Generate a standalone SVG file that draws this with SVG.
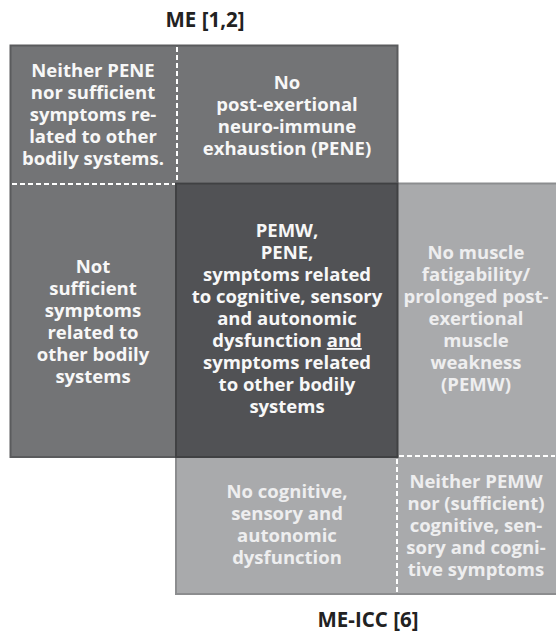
<svg xmlns="http://www.w3.org/2000/svg" width="556" height="633" viewBox="0 0 556 633">
<style>
text{font-family:"Open Sans","Noto Sans","Liberation Sans",sans-serif;font-weight:700;font-size:18.5px;text-anchor:middle}
.w{fill:#f7f7f7}
.l{fill:#eeeeef}
.t{fill:#222;font-size:20.5px}
.div{stroke:#ffffff;stroke-width:2;stroke-dasharray:5 3;fill:none}
</style>
<rect width="556" height="633" fill="#ffffff"/>
<g id="titles">
<text class="t" x="205" y="27">ME [1,2]</text>
<text class="t" x="368" y="627">ME-ICC [6]</text>
</g>
<g id="boxes">
<rect id="me-box" x="10.5" y="45.5" width="387" height="411.5" fill="#737476" stroke="#5a5b5d" stroke-width="2"/>
<rect id="icc-box" x="176" y="183.5" width="381" height="410.5" fill="#a9aaac" stroke="#8c8d8f" stroke-width="2"/>
<rect id="overlap-box" x="176" y="183.5" width="221.5" height="273.5" fill="#515255" stroke="#404143" stroke-width="2"/>
</g>
<g id="connectors">
<path class="div" d="M177 47V182M12 184H175"/>
<path class="div" d="M399 456H555M397 459V593"/>
</g>
<g id="me-only-both">
<text class="w" y="77"><tspan x="93">Neither PENE</tspan><tspan x="93" dy="22">nor sufficient</tspan><tspan x="93" dy="22">symptoms re-</tspan><tspan x="93" dy="22">lated to other</tspan><tspan x="93" dy="22">bodily systems.</tspan></text>
</g>
<g id="no-pene">
<text class="w" y="89"><tspan x="287">No</tspan><tspan x="287" dy="22">post-exertional</tspan><tspan x="287" dy="22">neuro-immune</tspan><tspan x="287" dy="22">exhaustion (PENE)</tspan></text>
</g>
<g id="not-sufficient">
<text class="w" y="273"><tspan x="93">Not</tspan><tspan x="93" dy="22">sufficient</tspan><tspan x="93" dy="22">symptoms</tspan><tspan x="93" dy="22">related to</tspan><tspan x="93" dy="22">other bodily</tspan><tspan x="93" dy="22">systems</tspan></text>
</g>
<g id="core">
<text class="w" y="237"><tspan x="287">PEMW,</tspan><tspan x="287" dy="22">PENE,</tspan><tspan x="287" dy="22">symptoms related</tspan><tspan x="287" dy="22">to cognitive, sensory</tspan><tspan x="287" dy="22">and autonomic</tspan><tspan x="287" dy="22">dysfunction <tspan text-decoration="underline">and</tspan></tspan><tspan x="287" dy="22">symptoms related</tspan><tspan x="287" dy="22">to other bodily</tspan><tspan x="287" dy="22">systems</tspan></text>
</g>
<g id="no-pemw">
<text class="l" y="259"><tspan x="476">No muscle</tspan><tspan x="476" dy="22">fatigability/</tspan><tspan x="476" dy="22">prolonged post-</tspan><tspan x="476" dy="22">exertional</tspan><tspan x="476" dy="22">muscle</tspan><tspan x="476" dy="22">weakness</tspan><tspan x="476" dy="22">(PEMW)</tspan></text>
</g>
<g id="no-cognitive">
<text class="l" y="498"><tspan x="287">No cognitive,</tspan><tspan x="287" dy="22">sensory and</tspan><tspan x="287" dy="22">autonomic</tspan><tspan x="287" dy="22">dysfunction</tspan></text>
</g>
<g id="icc-only-both">
<text class="l" y="488"><tspan x="476">Neither PEMW</tspan><tspan x="476" dy="22">nor (sufficient)</tspan><tspan x="476" dy="22">cognitive, sen-</tspan><tspan x="476" dy="22">sory and cogni-</tspan><tspan x="476" dy="22">tive symptoms</tspan></text>
</g>
</svg>
